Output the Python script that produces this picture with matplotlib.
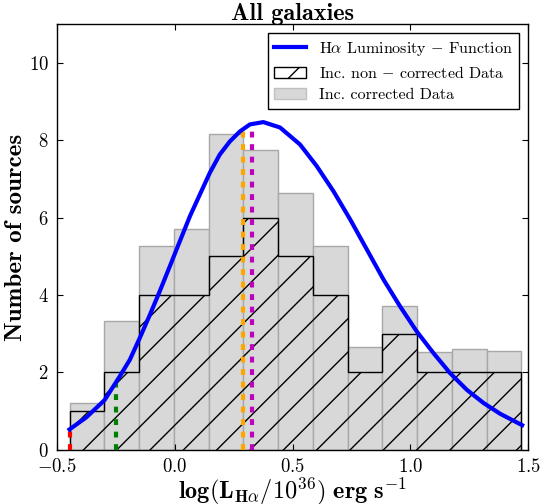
import numpy as np
import matplotlib
matplotlib.use('Agg')
import matplotlib.pyplot as plt
from matplotlib.patches import Patch
from matplotlib.lines import Line2D

plt.rcParams['font.family'] = 'serif'
plt.rcParams['font.serif'] = ['cmr10']
plt.rcParams['mathtext.fontset'] = 'cm'
plt.rcParams['axes.formatter.use_mathtext'] = True
plt.rcParams['axes.unicode_minus'] = False

# histogram bin edges in log(L_Ha / 1e36)
bin_edges = np.linspace(-0.447, 1.472, 14)
# incompleteness corrected counts per bin
counts_corrected = [1.20, 3.32, 5.27, 5.70, 8.15, 7.76, 6.63, 5.27, 2.66, 3.72, 2.53, 2.59, 2.55]
# raw (non corrected) counts per bin
counts_raw = [1, 2, 4, 4, 5, 6, 5, 4, 2, 3, 2, 2, 2]

# fitted luminosity function
lf_x = [-0.447, -0.376, -0.298, -0.234, -0.191, -0.149, -0.106, -0.064, -0.021, 0.021,
        0.064, 0.106, 0.149, 0.191, 0.234, 0.277, 0.319, 0.376, 0.447, 0.532,
        0.603, 0.674, 0.745, 0.816, 0.887, 0.957, 1.028, 1.099, 1.170, 1.241,
        1.312, 1.383, 1.475]
lf_y = [0.52, 0.83, 1.28, 1.89, 2.32, 2.88, 3.48, 4.09, 4.74, 5.38,
        6.03, 6.59, 7.16, 7.63, 7.97, 8.23, 8.41, 8.47, 8.33, 7.89,
        7.33, 6.68, 5.95, 5.17, 4.39, 3.70, 3.05, 2.49, 1.97, 1.54,
        1.20, 0.92, 0.63]

# marker lines (x position, height reached on the function)
mark_x = [-0.447, -0.251, 0.291, 0.329]
mark_top = [0.52, 1.72, 8.29, 8.43]
mark_colors = ['r', 'g', 'orange', 'm']

bin_centres = 0.5 * (bin_edges[:-1] + bin_edges[1:])

fig = plt.figure(figsize=(5.41, 5.04), dpi=100)
ax = fig.add_axes([0.1054, 0.1081, 0.8706, 0.8437])

ax.hist(bin_centres, bins=bin_edges, weights=counts_corrected,
        facecolor='#d8d8d8', edgecolor='#a8a8a8', linewidth=1.0, zorder=1)
ax.hist(bin_centres, bins=bin_edges, weights=counts_raw, histtype='step',
        hatch='/', color='k', fill=False, linewidth=1.0, zorder=2)

ax.vlines(mark_x, 0, mark_top, colors=mark_colors, linestyles=[(0, (1.4, 1.6))],
          linewidth=3, zorder=3)
ax.plot(lf_x, lf_y, color='b', linewidth=3, solid_joinstyle='round', zorder=4)

ax.set_xlim(-0.5, 1.5)
ax.set_ylim(0, 11)
ax.set_xticks([-0.5, 0.0, 0.5, 1.0, 1.5])
ax.set_yticks([0, 2, 4, 6, 8, 10])
ax.tick_params(direction='in', top=True, right=True, length=4, width=0.8,
               labelsize=13.5, pad=6)
for s in ax.spines.values():
    s.set_linewidth(1.0)

ax.set_title('All galaxies', fontfamily='cmb10', fontsize=17.5, pad=3)
ax.set_xlabel(r'$\mathbf{log(L_{H\alpha}/10^{36})\ erg\ s^{-1}}$', fontsize=17.5, labelpad=-0.5)
ax.set_ylabel('Number of sources', fontfamily='cmb10', fontsize=18, labelpad=1)

handles = [
    Line2D([], [], color='b', linewidth=3),
    Patch(facecolor='white', edgecolor='k', hatch='/'),
    Patch(facecolor='#d8d8d8', edgecolor='#c0c0c0'),
]
labels = [r'H$\alpha$ Luminosity $-$ Function',
          r'Inc. non $-$ corrected Data',
          r'Inc. corrected Data']
leg = ax.legend(handles, labels, loc='upper right', bbox_to_anchor=(0.9815, 0.979),
                borderaxespad=0, fontsize=11.5, fancybox=False, framealpha=1,
                edgecolor='k', labelspacing=0.45)
leg.get_frame().set_linewidth(1.0)

fig.savefig('out.png', dpi=100)
